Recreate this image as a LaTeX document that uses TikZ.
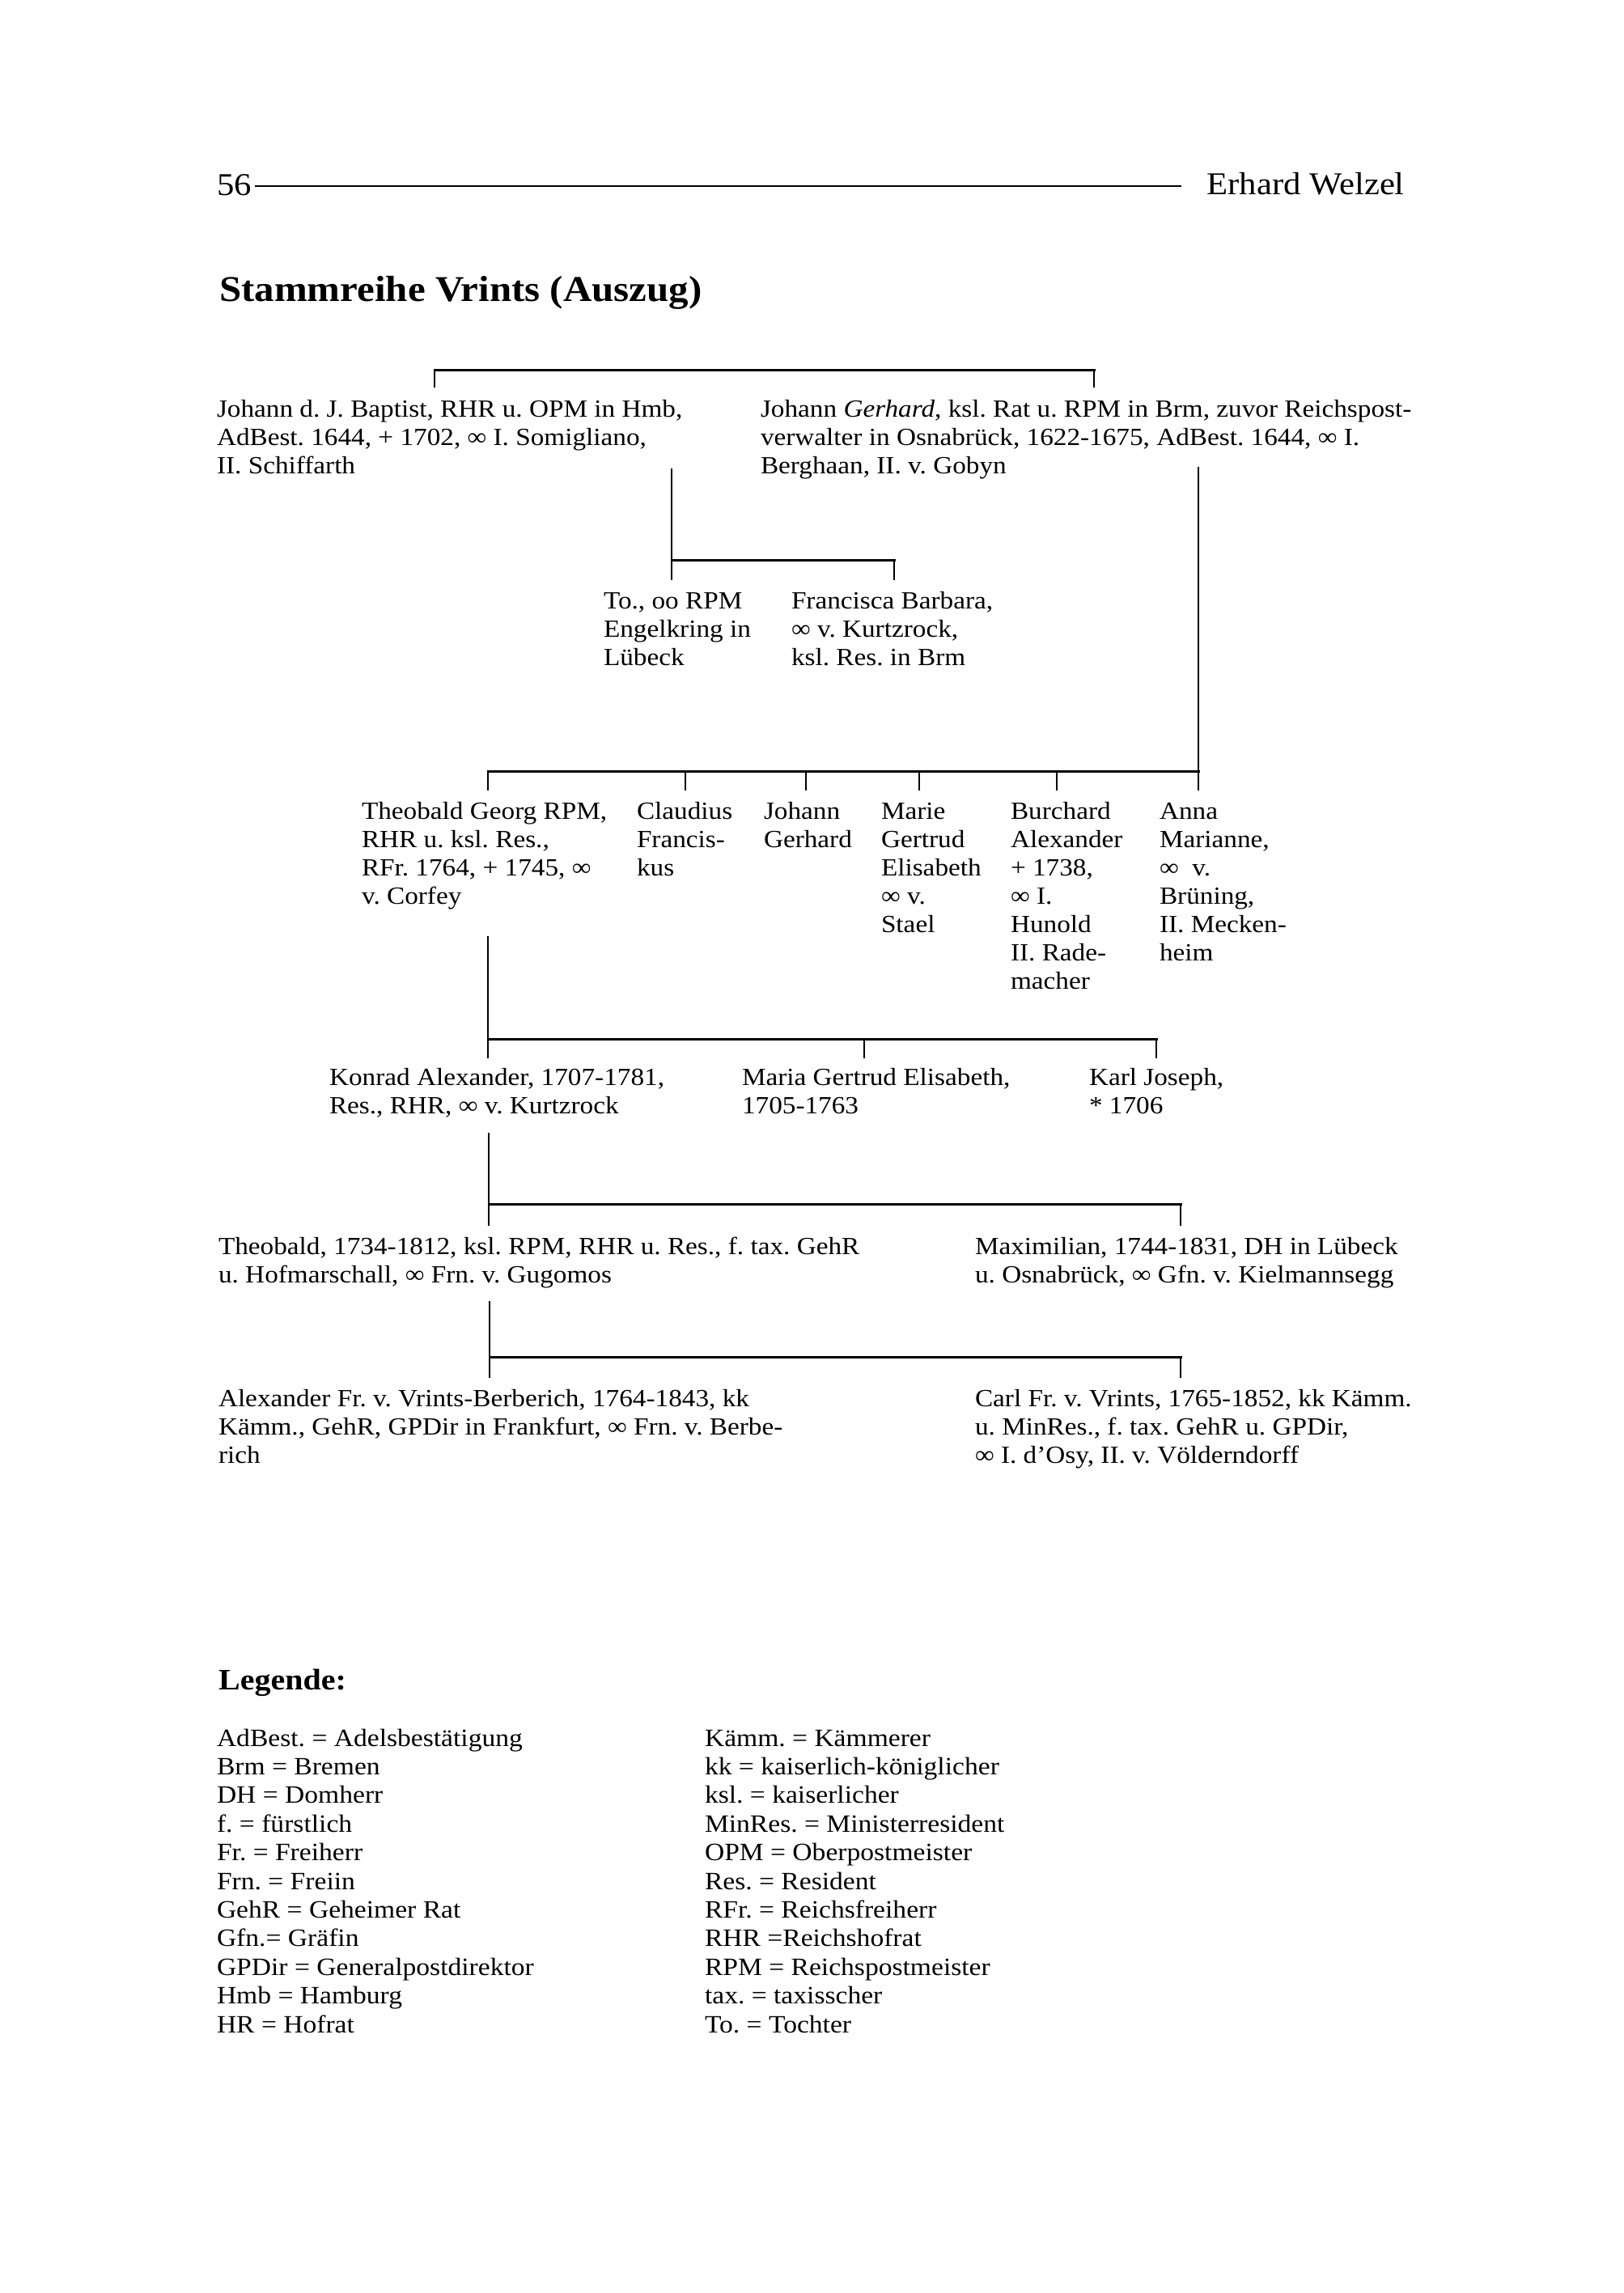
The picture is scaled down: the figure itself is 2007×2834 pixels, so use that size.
\documentclass[tikz,border=0pt]{standalone}
\usepackage{fontspec}
\setmainfont{Liberation Serif}[FakeStretch=1.09]
\frenchspacing
\newcommand\bodyfont{\fontsize{30.5}{35}\selectfont}
\newcommand\headfont{\fontsize{39.2}{44}\selectfont}
\newcommand\titlefont{\fontsize{44.9}{52}\selectfont\bfseries}
\newcommand\legfont{\fontsize{30.8}{35.4}\selectfont}
\newcommand\legheadfont{\fontsize{36.7}{44}\selectfont\bfseries}
\newcommand\stack[1]{\begin{tabular}[t]{@{}l@{}}#1\end{tabular}}
\tikzset{
  txt/.style={anchor=base west, inner sep=0pt, outer sep=0pt, font=\bodyfont},
  legtxt/.style={anchor=base west, inner sep=0pt, outer sep=0pt, font=\legfont},
  hl/.style={line width=3pt, line cap=rect},
  vl/.style={line width=1.9pt},
}
\begin{document}
\begin{tikzpicture}[x=1pt,y=-1pt]
\fill[white] (0,0) rectangle (2007,2834);
\useasboundingbox (0,0) rectangle (2007,2834);

% header
\node[anchor=base west, inner sep=0pt, font=\headfont] (pg) at (268,241) {56};
\node[anchor=base east, inner sep=0pt, font=\headfont] (au) at (1736,240) {Erhard Welzel};
\coordinate (rl) at (315,230);
\coordinate (rr) at (1460,230);
\draw[line width=2.2pt] (rl) -- (rr);

% title
\node[anchor=base west, inner sep=0pt, font=\titlefont] (title) at (271,372) {Stammreihe Vrints (Auszug)};

% row 1
\node[txt] (jb) at (268,515) {\stack{Johann d. J. Baptist, RHR u. OPM in Hmb,\\AdBest. 1644, + 1702, ∞ I. Somigliano,\\II. Schiffarth}};
\node[txt] (jg) at (940,515) {\stack{Johann \textit{Gerhard}, ksl. Rat u. RPM in Brm, zuvor Reichspost-\\verwalter in Osnabrück, 1622-1675, AdBest. 1644, ∞ I.\\Berghaan, II. v. Gobyn}};

% row 2
\node[txt] (to) at (746,752) {\stack{To., oo RPM\\Engelkring in\\Lübeck}};
\node[txt] (fb) at (978,752) {\stack{Francisca Barbara,\\∞ v. Kurtzrock,\\ksl. Res. in Brm}};

% row 3
\node[txt] (tg) at (447,1012) {\stack{Theobald Georg RPM,\\RHR u. ksl. Res.,\\RFr. 1764, + 1745, ∞\\v. Corfey}};
\node[txt] (cf) at (787,1012) {\stack{Claudius\\Francis-\\kus}};
\node[txt] (jo) at (944,1012) {\stack{Johann\\Gerhard}};
\node[txt] (mg) at (1089,1012) {\stack{Marie\\Gertrud\\Elisabeth\\∞ v.\\Stael}};
\node[txt] (ba) at (1249,1012) {\stack{Burchard\\Alexander\\+ 1738,\\∞ I.\\Hunold\\II. Rade-\\macher}};
\node[txt] (am) at (1433,1012) {\stack{Anna\\Marianne,\\∞\ \ v.\\Brüning,\\II. Mecken-\\heim}};

% row 4
\node[txt] (ka) at (407,1341) {\stack{Konrad Alexander, 1707-1781,\\Res., RHR, ∞ v. Kurtzrock}};
\node[txt] (mge) at (917,1341) {\stack{Maria Gertrud Elisabeth,\\1705-1763}};
\node[txt] (kj) at (1346,1341) {\stack{Karl Joseph,\\{*} 1706}};

% row 5
\node[txt] (th) at (270,1550) {\stack{Theobald, 1734-1812, ksl. RPM, RHR u. Res., f. tax. GehR\\u. Hofmarschall, ∞ Frn. v. Gugomos}};
\node[txt] (mx) at (1205,1550) {\stack{Maximilian, 1744-1831, DH in Lübeck\\u. Osnabrück, ∞ Gfn. v. Kielmannsegg}};

% row 6
\node[txt] (al) at (270,1738) {\stack{Alexander Fr. v. Vrints-Berberich, 1764-1843, kk\\Kämm., GehR, GPDir in Frankfurt, ∞ Frn. v. Berbe-\\rich}};
\node[txt] (cl) at (1205,1738) {\stack{Carl Fr. v. Vrints, 1765-1852, kk Kämm.\\u. MinRes., f. tax. GehR u. GPDir,\\∞ I. d’Osy, II. v. Völderndorff}};

% bracket 1 (row 1 siblings)
\coordinate (b1l) at (537,457);
\coordinate (b1r) at (1352,457);
\coordinate (t1l) at (537,479);
\coordinate (t1r) at (1352,479);
\draw[hl] (b1l) -- (b1r);
\draw[vl] (b1l) -- (t1l);
\draw[vl] (b1r) -- (t1r);

% Johann Baptist -> children
\coordinate (jbs) at (830,579);
\coordinate (b2l) at (830,692);
\coordinate (b2r) at (1105,692);
\coordinate (t2l) at (830,717);
\coordinate (t2r) at (1105,717);
\draw[vl] (jbs) -- (t2l);
\draw[hl] (b2l) -- (b2r);
\draw[vl] (b2r) -- (t2r);

% Johann Gerhard -> children
\coordinate (jgs) at (1481,577);
\coordinate (b3r) at (1481,953);
\coordinate (t3f) at (1481,977);
\coordinate (b3l) at (603,953);
\draw[vl] (jgs) -- (t3f);
\draw[hl] (b3l) -- (b3r);
\foreach \x/\n in {603/a,847/b,996/c,1136/d,1306/e}{
  \coordinate (t3\n) at (\x,977);
  \draw[vl] (\x,953) -- (t3\n);
}

% Theobald Georg -> children
\coordinate (tgs) at (603,1157);
\coordinate (b4l) at (603,1284);
\coordinate (b4r) at (1429,1284);
\coordinate (t4a) at (603,1308);
\coordinate (t4b) at (1068,1308);
\coordinate (t4c) at (1429,1308);
\draw[vl] (tgs) -- (t4a);
\draw[hl] (b4l) -- (b4r);
\draw[vl] (1068,1284) -- (t4b);
\draw[vl] (b4r) -- (t4c);

% Konrad Alexander -> children
\coordinate (kas) at (604,1400);
\coordinate (b5l) at (604,1488);
\coordinate (b5r) at (1459,1488);
\coordinate (t5a) at (604,1515);
\coordinate (t5b) at (1459,1515);
\draw[vl] (kas) -- (t5a);
\draw[hl] (b5l) -- (b5r);
\draw[vl] (b5r) -- (t5b);

% Theobald -> children
\coordinate (ths) at (605,1608);
\coordinate (b6l) at (605,1677);
\coordinate (b6r) at (1459,1677);
\coordinate (t6a) at (605,1703);
\coordinate (t6b) at (1459,1703);
\draw[vl] (ths) -- (t6a);
\draw[hl] (b6l) -- (b6r);
\draw[vl] (b6r) -- (t6b);

% legend
\node[anchor=base west, inner sep=0pt, font=\legheadfont] (leg) at (270,2088) {Legende:};
\node[legtxt] (legl) at (268,2158) {\stack{AdBest. = Adelsbestätigung\\Brm = Bremen\\DH = Domherr\\f. = fürstlich\\Fr. = Freiherr\\Frn. = Freiin\\GehR = Geheimer Rat\\Gfn.= Gräfin\\GPDir = Generalpostdirektor\\Hmb = Hamburg\\HR = Hofrat}};
\node[legtxt] (legr) at (871,2158) {\stack{Kämm. = Kämmerer\\kk = kaiserlich-königlicher\\ksl. = kaiserlicher\\MinRes. = Ministerresident\\OPM = Oberpostmeister\\Res. = Resident\\RFr. = Reichsfreiherr\\RHR =Reichshofrat\\RPM = Reichspostmeister\\tax. = taxisscher\\To. = Tochter}};
\end{tikzpicture}
\end{document}
